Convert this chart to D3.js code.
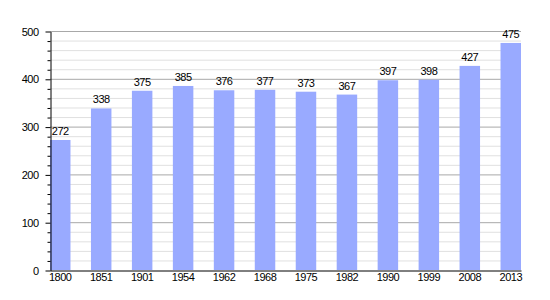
<!DOCTYPE html>
<html>
<head>
<meta charset="utf-8">
<script src="https://cdn.jsdelivr.net/npm/d3@7"></script>
<style>
  body { margin: 0; background: #fff; }
  svg text { font-family: "Liberation Sans", Arial, sans-serif; font-size: 11px; fill: #000; letter-spacing: -0.5px; }
</style>
</head>
<body>
<div id="chart"></div>
<script>
var w = 550;
var h = 300;
var margin = {top: 31, right: 29, bottom: 30, left: 50};

var years = ["1800","1851","1901","1954","1962","1968","1975","1982","1990","1999","2008","2013"];
var population = [272,338,375,385,376,377,373,367,397,398,427,475];
var majorTicks = [0,100,200,300,400,500];

var svg = d3.select("#chart")
    .append("svg")
    .attr("width", w)
    .attr("height", h);

var xScale = d3.scaleBand()
    .domain(years)
    .range([margin.left, w - margin.right])
    .paddingInner(0.5)
    .paddingOuter(0);

var yScale = d3.scaleLinear()
    .domain([0, 500])
    .range([h - margin.bottom, margin.top]);

var minorTicks = d3.range(0, 501, 20).filter(function (d) { return d % 100 != 0; });

// minor grid lines
svg.append("g")
    .selectAll("line")
    .data(minorTicks)
    .enter()
    .append("line")
    .attr("x1", margin.left)
    .attr("x2", w - margin.right)
    .attr("y1", function (d) { return yScale(d) + 0.5; })
    .attr("y2", function (d) { return yScale(d) + 0.5; })
    .attr("stroke", "#e0e0e0");

// major grid lines
svg.append("g")
    .selectAll("line")
    .data(majorTicks.slice(1))
    .enter()
    .append("line")
    .attr("x1", margin.left)
    .attr("x2", w - margin.right)
    .attr("y1", function (d) { return yScale(d) + 0.5; })
    .attr("y2", function (d) { return yScale(d) + 0.5; })
    .attr("stroke", "#a8a8a8");

// bars
svg.selectAll("rect")
    .data(population)
    .enter()
    .append("rect")
    .attr("x", function (d, i) { return xScale(years[i]); })
    .attr("y", function (d) { return yScale(d); })
    .attr("width", xScale.bandwidth())
    .attr("height", function (d) { return yScale(0) - yScale(d); })
    .attr("fill", "#99aaff");

// value labels
svg.append("g")
    .selectAll("text")
    .data(population)
    .enter()
    .append("text")
    .attr("x", function (d, i) { return xScale(years[i]) + xScale.bandwidth() / 2; })
    .attr("y", function (d) { return yScale(d) - 5; })
    .attr("text-anchor", "middle")
    .text(function (d) { return d; });

// y axis with minor ticks
var yMinor = d3.axisLeft(yScale)
    .tickValues(minorTicks)
    .tickSize(3)
    .tickFormat("");
svg.append("g")
    .attr("transform", "translate(" + (margin.left + 0.5) + ",0.5)")
    .call(yMinor)
    .call(function (g) { g.select(".domain").remove(); });

var yAxis = d3.axisLeft(yScale)
    .tickValues(majorTicks)
    .tickSize(5)
    .tickSizeOuter(0)
    .tickPadding(7);
svg.append("g")
    .attr("transform", "translate(" + (margin.left + 0.5) + ",0.5)")
    .call(yAxis)
    .call(function (g) { g.selectAll("text").style("font-size", "11px"); });

// x axis baseline
var xAxis = d3.axisBottom(xScale)
    .tickSize(0)
    .tickSizeOuter(0)
    .tickPadding(3);
svg.append("g")
    .attr("transform", "translate(0," + (yScale(0) + 0.5) + ")")
    .call(xAxis)
    .call(function (g) { g.selectAll("text").style("font-size", "11px"); });

svg.selectAll(".domain").attr("stroke", "#000");
</script>
</body>
</html>
